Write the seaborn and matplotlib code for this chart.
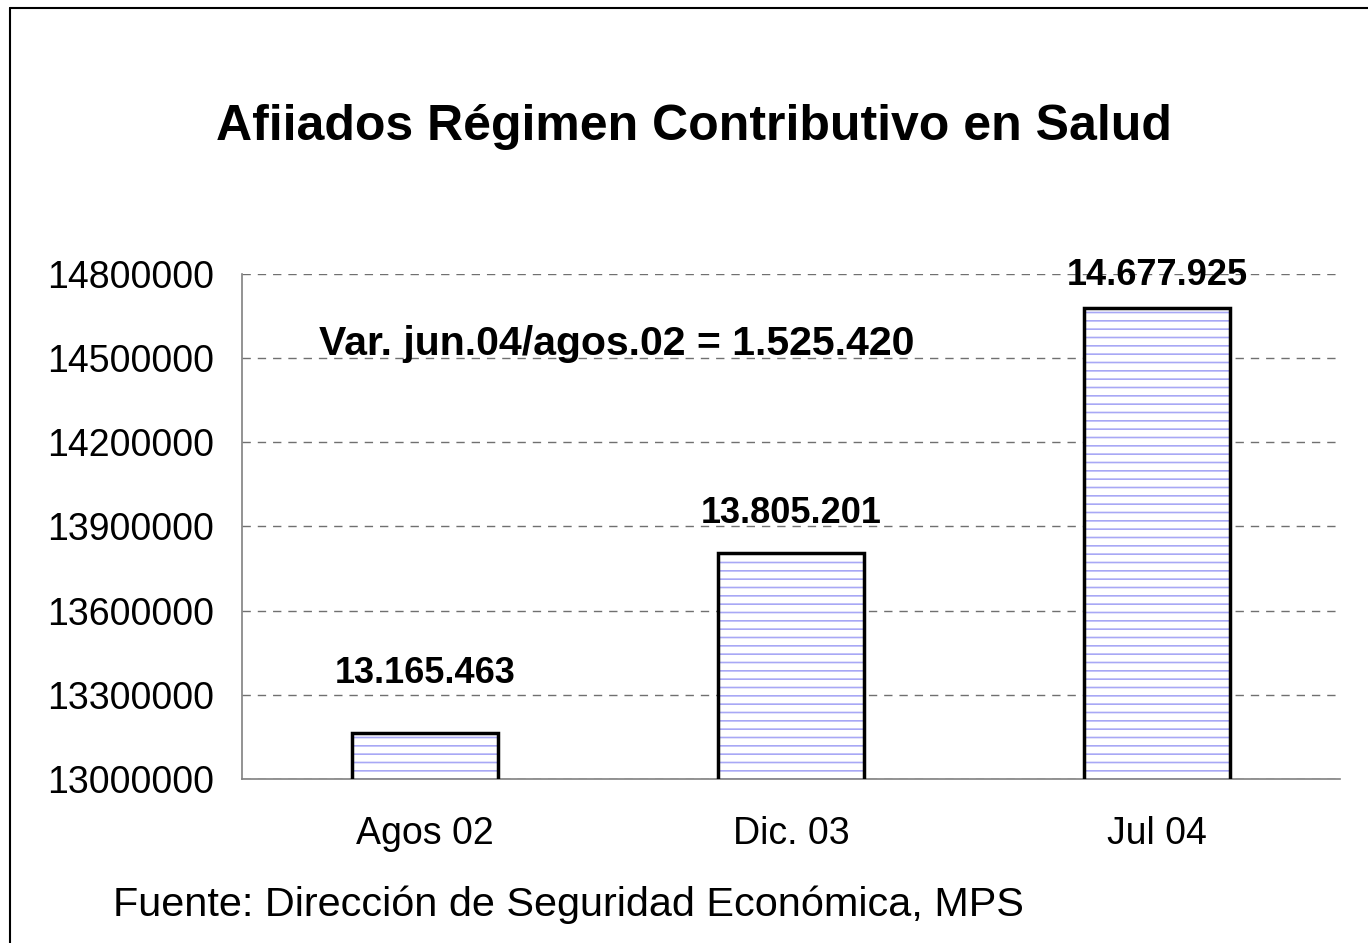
import matplotlib
matplotlib.use("Agg")
import matplotlib.pyplot as plt
import seaborn as sns
import pandas as pd
from matplotlib.patches import Rectangle
from matplotlib.lines import Line2D
from matplotlib.ticker import FixedLocator

# --------------------
# Data
# --------------------
periods = ["Agos 02", "Dic. 03", "Jul 04"]
afiliados = [13165463, 13805201, 14677925]
value_labels = ["13.165.463", "13.805.201", "14.677.925"]
y_ticks = [13000000, 13300000, 13600000, 13900000, 14200000, 14500000, 14800000]

title = "Afiiados Régimen Contributivo en Salud"
note = "Var. jun.04/agos.02 = 1.525.420"
source = "Fuente: Dirección de Seguridad Económica, MPS"

df = pd.DataFrame({"Periodo": periods, "Afiliados": afiliados})

# --------------------
# Style
# --------------------
sns.set_style("white")
plt.rcParams["font.family"] = ["Liberation Sans", "DejaVu Sans"]
plt.rcParams["text.color"] = "black"
plt.rcParams["xtick.labelcolor"] = "black"
plt.rcParams["ytick.labelcolor"] = "black"
plt.rcParams["hatch.linewidth"] = 1.2

fig = plt.figure(figsize=(13.68, 9.43), dpi=100)
ax = fig.add_axes([242 / 1368, 1 - 779 / 943, (1340 - 242) / 1368, (779 - 274) / 943])

# hatched fill
sns.barplot(data=df, x="Periodo", y="Afiliados", ax=ax, width=0.4,
            color="white", edgecolor="#a8a8f5", linewidth=0, hatch="--",
            saturation=1, zorder=2)

# black outline on top of the hatch
for p in list(ax.patches):
    ax.add_patch(Rectangle(p.get_xy(), p.get_width(), p.get_height(),
                           fill=False, edgecolor="black", linewidth=2.5, zorder=3))

ax.set_ylim(y_ticks[0], y_ticks[-1])
ax.set_xlim(-0.5, len(periods) - 0.5)
ax.set_yticks(y_ticks)
ax.set_yticklabels([str(v) for v in y_ticks], fontsize=27)
ax.set_xticks(range(len(periods)))
ax.set_xticklabels(periods, fontsize=27)
ax.xaxis.set_minor_locator(FixedLocator([i - 0.5 for i in range(len(periods) + 1)]))
ax.tick_params(axis="x", which="major", length=0, pad=27)
ax.tick_params(axis="x", which="minor", length=7, width=1.2, color="#606060", direction="out")
ax.tick_params(axis="y", length=7, width=1.2, color="#606060", direction="out", pad=13)
ax.set_xlabel("")
ax.set_ylabel("")

ax.grid(axis="y", color="#707070", linestyle=(0, (6, 5)), linewidth=1, zorder=0)
ax.set_axisbelow(True)

for side in ["top", "right"]:
    ax.spines[side].set_visible(False)
for side in ["left", "bottom"]:
    ax.spines[side].set_color("#808080")
    ax.spines[side].set_linewidth(1.2)

# value labels above bars
label_gap = [30, 16, 11]
for i, (v, lab) in enumerate(zip(afiliados, value_labels)):
    ax.annotate(lab, (i, v), xytext=(0, label_gap[i]), textcoords="offset points",
                ha="center", va="bottom", fontsize=26, fontweight="bold")

ax.text(0.525, 14550000, note, ha="center", va="center",
        fontsize=29.5, fontweight="bold")

fig.text(694 / 1368, 1 - 127 / 943, title, ha="center", va="center",
         fontsize=36, fontweight="bold")
fig.text(113 / 1368, 1 - 905 / 943, source, ha="left", va="center", fontsize=29.8)

# frame of the original chart area (left and top edges visible)
fig.add_artist(Line2D([10 / 1368, 10 / 1368], [0, 1 - 8 / 943], color="black", linewidth=1.5))
fig.add_artist(Line2D([10 / 1368, 1], [1 - 8 / 943, 1 - 8 / 943], color="black", linewidth=1.5))

fig.savefig("out.png", dpi=100)
